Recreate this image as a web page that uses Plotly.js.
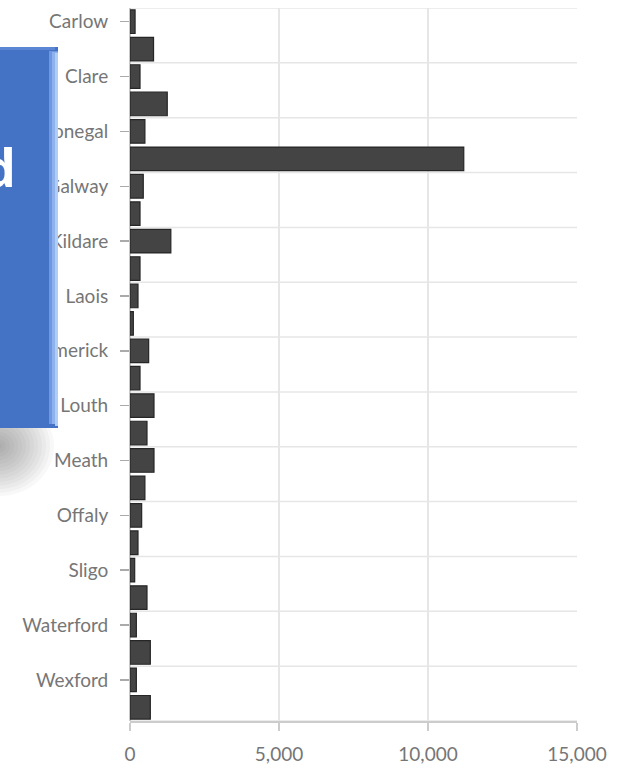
<!DOCTYPE html>
<html>
<head>
<meta charset="utf-8">
<script src="https://cdn.plot.ly/plotly-3.0.1.min.js"></script>
<style>html,body{margin:0;padding:0;background:#fff;}</style>
</head>
<body>
<div id="chart" style="width:628px;height:771px;"></div>
<script>
const counties = ["Carlow","Cavan","Clare","Cork","Donegal","Dublin","Galway","Kerry","Kildare","Kilkenny","Laois","Leitrim","Limerick","Longford","Louth","Mayo","Meath","Monaghan","Offaly","Roscommon","Sligo","Tipperary","Waterford","Westmeath","Wexford","Wicklow"];
const values = [170,790,336,1250,500,11200,445,336,1370,336,268,112,626,336,805,570,805,500,391,268,157,570,213,682,213,682];
const labeledCounties = ["Carlow","Clare","Donegal","Galway","Kildare","Laois","Limerick","Louth","Meath","Offaly","Sligo","Waterford","Wexford"];
const xTicks = [0,5000,10000,15000];
const boxText = "d";

const W = 628, H = 771, M = {l:130, r:51, t:8, b:50};
const pw = W - M.l - M.r, ph = H - M.t - M.b;
const PX = x => (x - M.l) / pw;
const PY = y => (H - M.b - y) / ph;

const shapes = [];
// horizontal gridlines at pair boundaries
for (let i = -0.5; i <= counties.length - 0.5; i += 2) {
  shapes.push({type:'line', xref:'paper', yref:'y', x0:0, x1:1, y0:i, y1:i,
    line:{color:'#e6e6e6', width:1.5}, layer:'below'});
}
// soft shadow
for (let r = 56; r >= 4; r -= 4) {
  shapes.push({type:'circle', xref:'paper', yref:'paper', x0:PX(-2-r), x1:PX(-2+r), y0:PY(446+r*0.9), y1:PY(446-r*0.9),
    fillcolor:'rgba(70,70,70,0.04)', line:{width:0}, layer:'above'});
}
// blue box
shapes.push({type:'rect', xref:'paper', yref:'paper', x0:PX(-20), x1:PX(58), y0:PY(428), y1:PY(47),
  fillcolor:'#4472C4', line:{width:0}, layer:'above'});
shapes.push({type:'rect', xref:'paper', yref:'paper', x0:PX(-20), x1:PX(55), y0:PY(50), y1:PY(47),
  fillcolor:'#5a86d4', line:{width:0}, layer:'above'});
shapes.push({type:'rect', xref:'paper', yref:'paper', x0:PX(49), x1:PX(58), y0:PY(424), y1:PY(51),
  fillcolor:'#6f98e0', line:{width:0}, layer:'above'});
shapes.push({type:'rect', xref:'paper', yref:'paper', x0:PX(52), x1:PX(58), y0:PY(424), y1:PY(52),
  fillcolor:'#8db2ee', line:{width:0}, layer:'above'});
shapes.push({type:'rect', xref:'paper', yref:'paper', x0:PX(55), x1:PX(58), y0:PY(426), y1:PY(53),
  fillcolor:'#b0cdf8', line:{width:0}, layer:'above'});

const trace = {
  type:'bar', orientation:'h',
  x: values, y: counties,
  marker:{color:'#444444', line:{color:'#262626', width:1.2}},
  hoverinfo:'x+y'
};

const font = {family:'Lato, "Open Sans", sans-serif', size:19, color:'#767676'};

const layout = {
  width:W, height:H,
  margin:M,
  paper_bgcolor:'#ffffff', plot_bgcolor:'#ffffff',
  showlegend:false,
  bargap:0.14,
  font:font,
  xaxis:{
    range:[0,15000], tickvals:xTicks, tickformat:',',
    showgrid:true, gridcolor:'#e6e6e6', gridwidth:1.5,
    zeroline:true, zerolinecolor:'#c8c8c8', zerolinewidth:1.5,
    showline:true, linecolor:'#cccccc', linewidth:1.5,
    ticks:'outside', ticklen:8, tickcolor:'#cccccc', tickwidth:1.5,
    ticklabelstandoff:8,
    tickfont:font, fixedrange:true
  },
  yaxis:{
    type:'category', categoryorder:'array', categoryarray:counties,
    range:[counties.length-0.5, -0.5],
    tickvals:labeledCounties, ticktext:labeledCounties,
    showgrid:false, zeroline:false, showline:false,
    ticks:'outside', ticklen:9, tickcolor:'#aaaaaa', tickwidth:1.5,
    ticklabelstandoff:8,
    tickfont:font, fixedrange:true
  },
  shapes:shapes,
  annotations:[{
    xref:'paper', yref:'paper', x:PX(18), y:PY(167), xanchor:'right', yanchor:'middle',
    text:'<b>' + boxText + '</b>', showarrow:false,
    font:{family:'"Open Sans", sans-serif', size:52, color:'#ffffff'}
  }]
};

Plotly.newPlot('chart', [trace], layout, {displayModeBar:false, staticPlot:true});
</script>
</body>
</html>
